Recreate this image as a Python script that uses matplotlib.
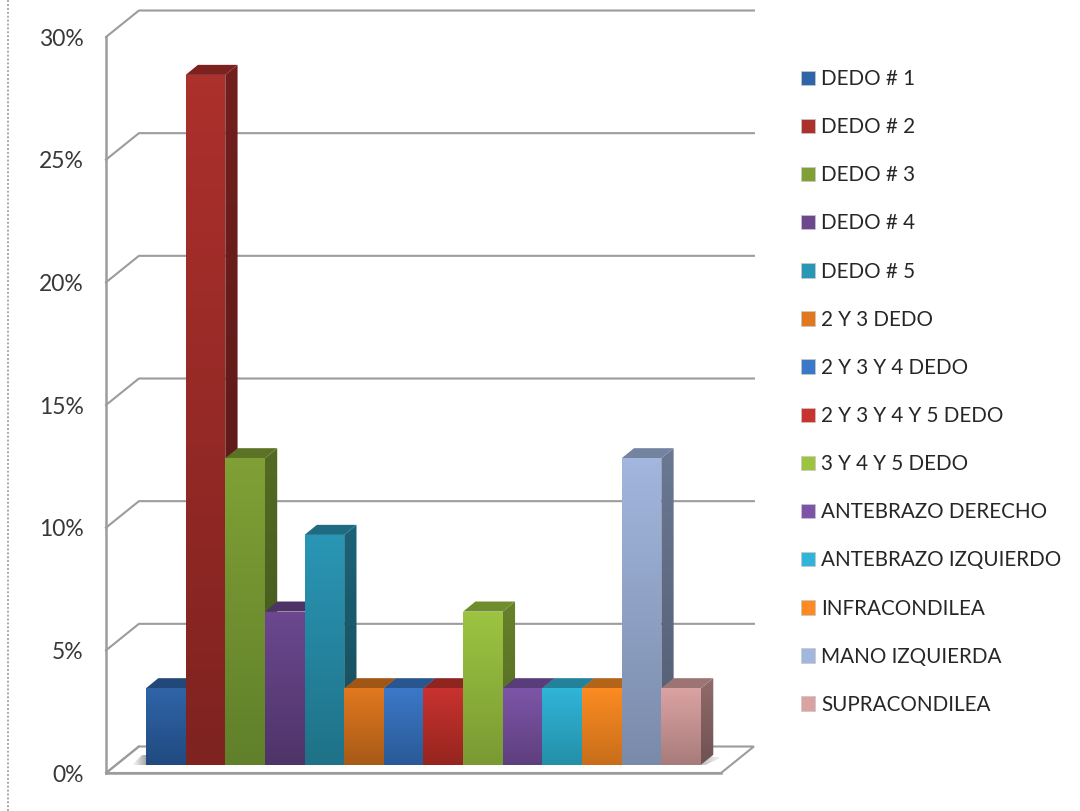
import matplotlib
matplotlib.use("Agg")
import matplotlib.pyplot as plt
import numpy as np
from matplotlib.colors import LinearSegmentedColormap, to_rgb
from matplotlib.patches import Patch, Polygon

categories = ["DEDO # 1", "DEDO # 2", "DEDO # 3", "DEDO # 4", "DEDO # 5", "2 Y 3 DEDO",
              "2 Y 3 Y 4 DEDO", "2 Y 3 Y 4 Y 5 DEDO", "3 Y 4 Y 5 DEDO", "ANTEBRAZO DERECHO",
              "ANTEBRAZO IZQUIERDO", "INFRACONDILEA", "MANO IZQUIERDA", "SUPRACONDILEA"]
values = [3.125, 28.125, 12.5, 6.25, 9.375, 3.125, 3.125, 3.125, 6.25, 3.125, 3.125, 3.125, 12.5, 3.125]
top_colors = ["#2F64A8", "#AC302C", "#80A036", "#6C488F", "#2A96B5", "#E0781F", "#3B78C8",
              "#C8322F", "#9CC441", "#7D55A8", "#30B4D8", "#FB8B22", "#A2B6DE", "#DBA2A2"]
bottom_colors = ["#214A80", "#7F2320", "#60802A", "#4E3468", "#1F7288", "#A85A17", "#2A5A97",
                 "#96251F", "#7A9A33", "#5E3F7E", "#2490A8", "#C86E1A", "#7A8BAA", "#A87C7C"]
yticks = [0, 5, 10, 15, 20, 25, 30]

plt.rcParams["font.family"] = ["Lato", "DejaVu Sans"]
W, H = 1080, 811
fig = plt.figure(figsize=(W / 100, H / 100), dpi=100)
ax = fig.add_axes([106 / W, (H - 773) / H, 615 / W, 736 / H])
XMIN, XMAX = -1.009, 14.505
YMAX = 30

GRID = "#9C9C9C"
WALL_DX, WALL_DY = 0.83, 1.08      # depth of the chart box
BAR_DX, BAR_DY = 0.31, 0.41        # depth of one bar
BASE = 0.33                        # bars stand slightly in front of the axis
LW = 1.5


def scale(c, f):
    return tuple(v * f for v in to_rgb(c))


def grad_poly(verts, c_a, c_b, z, horizontal=False):
    verts = np.array(verts)
    x0, x1 = verts[:, 0].min(), verts[:, 0].max()
    y0, y1 = verts[:, 1].min(), verts[:, 1].max()
    cmap = LinearSegmentedColormap.from_list("g", [c_b, c_a])
    ramp = np.linspace(0, 1, 64)
    ramp = ramp[None, :] if horizontal else ramp[:, None]
    im = ax.imshow(ramp, origin="lower", extent=(x0, x1, y0, y1),
                   cmap=cmap, aspect="auto", zorder=z, interpolation="bilinear")
    clip = Polygon(verts, closed=True, transform=ax.transData, facecolor="none", edgecolor="none")
    ax.add_patch(clip)
    im.set_clip_path(clip)


# floor
floor = Polygon([(XMIN, 0), (XMAX, 0), (XMAX + WALL_DX, WALL_DY), (XMIN + WALL_DX, WALL_DY)],
                closed=True, facecolor="white", edgecolor=GRID, lw=LW, zorder=1, clip_on=False)
ax.add_patch(floor)

# back wall grid lines and their slanted side-wall parts
for t in yticks:
    ax.plot([XMIN, XMIN + WALL_DX, XMAX + WALL_DX if t else XMIN + WALL_DX],
            [t, t + WALL_DY, t + WALL_DY], color=GRID, lw=LW, zorder=1, clip_on=False)

# floor shadows beside the first and the last bar
n = len(values)
grad_poly([(n, BASE), (n + 0.25, BASE + 0.33), (n + 0.55, BASE + 0.33), (n + 0.12, BASE)],
          "#FFFFFF", "#BDBDBD", 1.5, horizontal=True)
grad_poly([(-0.35, BASE), (0, BASE), (0, BASE + 0.4), (-0.1, BASE + 0.4)],
          "#A8A8A8", "#FFFFFF", 1.5, horizontal=True)

# bars, left to right
for i, (v, ct, cb) in enumerate(zip(values, top_colors, bottom_colors)):
    z = 2 + i * 0.1
    top = BASE + v
    grad_poly([(i + 1, BASE), (i + 1 + BAR_DX, BASE + BAR_DY), (i + 1 + BAR_DX, top + BAR_DY), (i + 1, top)],
              scale(ct, 0.66), scale(cb, 0.66), z)
    grad_poly([(i, top), (i + 1, top), (i + 1 + BAR_DX, top + BAR_DY), (i + BAR_DX, top + BAR_DY)],
              scale(ct, 0.72), scale(ct, 0.72), z + 0.01)
    grad_poly([(i, BASE), (i + 1, BASE), (i + 1, top), (i, top)], ct, cb, z + 0.02)

ax.set_xlim(XMIN, XMAX)
ax.set_ylim(0, YMAX)
ax.set_facecolor("none")
ax.set_xticks([])
ax.set_yticks(yticks)
ax.set_yticklabels([f"{t}%" for t in yticks], fontsize=16.5, color="#383838")
ax.tick_params(axis="y", length=0, pad=16)
for s in ("top", "right"):
    ax.spines[s].set_visible(False)
for s in ("left", "bottom"):
    ax.spines[s].set_color(GRID)
    ax.spines[s].set_linewidth(LW + 0.3)

handles = [Patch(facecolor=c, edgecolor="#C8C8C8", linewidth=0.5) for c in top_colors]
fig.legend(handles, categories, loc="upper left", bbox_to_anchor=(801 / W, (H - 69) / H),
           frameon=False, fontsize=14.9, labelcolor="#262626", labelspacing=1.36,
           handlelength=0.7, handleheight=0.7, handletextpad=0.28, borderpad=0, borderaxespad=0)

# page edge on the left
fig.add_artist(plt.Line2D([8 / W, 8 / W], [0, 1], color="#A8A8A8", lw=1.4, ls=(0, (1, 1))))

fig.savefig("out.png", dpi=100)
